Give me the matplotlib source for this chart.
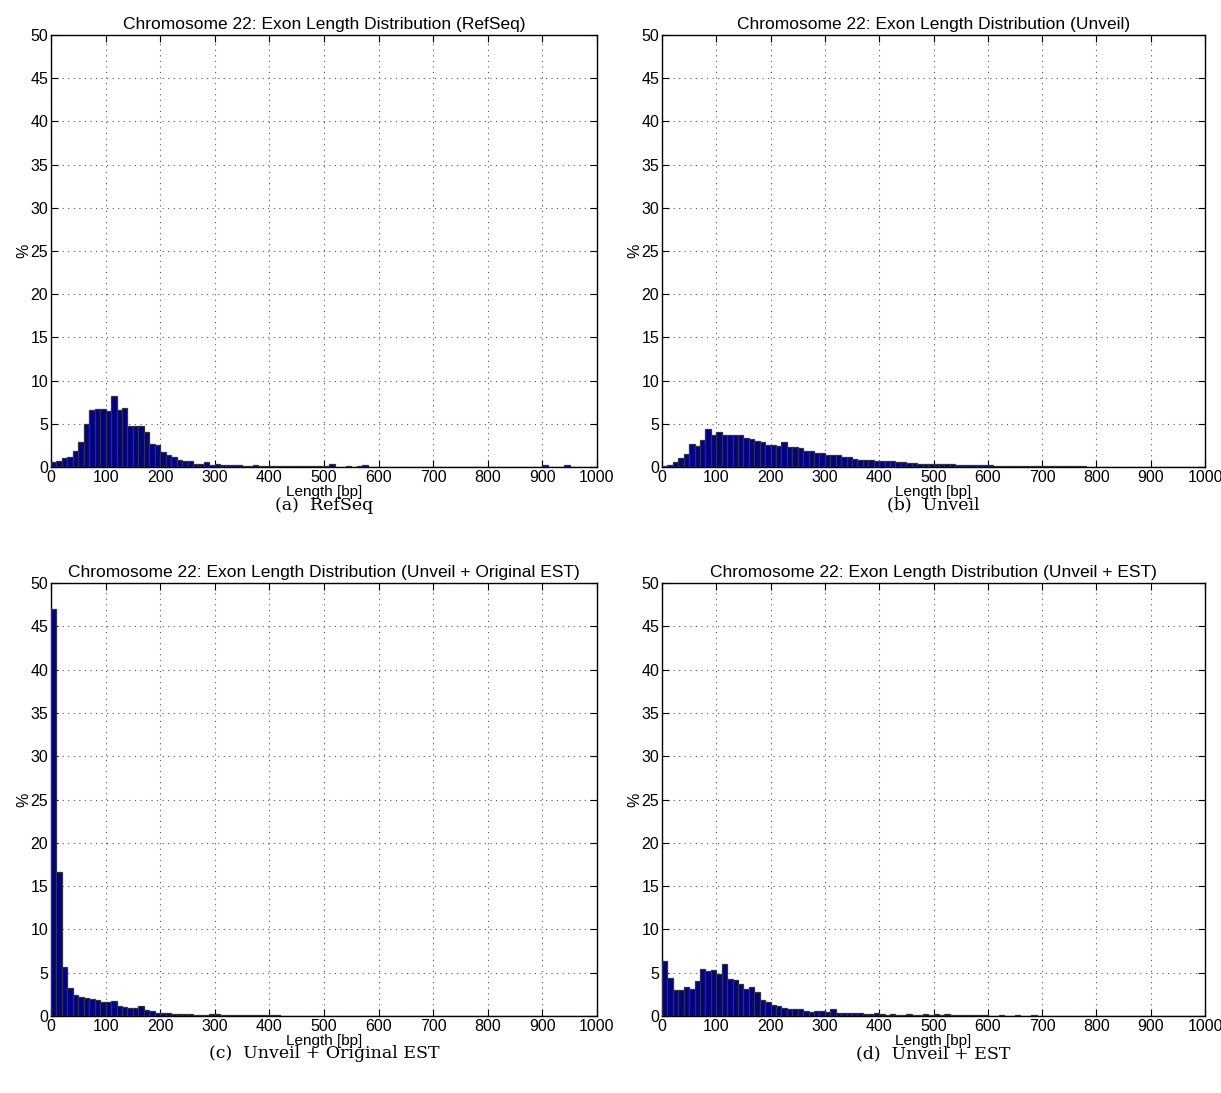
import numpy as np
import matplotlib
matplotlib.use('Agg')
import matplotlib.pyplot as plt

# percent of exons per 10 bp bin, 0..1000 bp
refseq = [0.6, 0.75, 1.0, 1.2, 1.8, 2.9, 5.0, 6.6, 6.7, 6.7,
          6.5, 8.2, 6.6, 6.8, 4.7, 4.7, 4.7, 4.0, 2.65, 2.5,
          1.7, 1.35, 1.15, 0.8, 0.65, 0.7, 0.4, 0.35, 0.6, 0.25,
          0.3, 0.2, 0.2, 0.2, 0.2, 0.1, 0.1, 0.2, 0.1, 0.1,
          0.08, 0.12, 0.08, 0.15, 0.1, 0.1, 0.1, 0.08, 0.08, 0.1,
          0.1, 0.35, 0.05, 0.05, 0.1, 0.05, 0.15, 0.2, 0.05, 0.03,
          0.05, 0.05, 0.05, 0.05, 0.05, 0.05, 0.03, 0.05, 0.03, 0.05,
          0.05, 0.03, 0.05, 0.03, 0.03, 0.03, 0.03, 0.03, 0.05, 0.03,
          0.03, 0.03, 0.03, 0.03, 0.03, 0.03, 0.03, 0.03, 0.03, 0.03,
          0.2, 0.03, 0.03, 0.03, 0.2, 0.03, 0.03, 0.03, 0.03, 0.03]

unveil = [0.1, 0.2, 0.6, 1.0, 1.5, 2.65, 2.4, 3.15, 4.45, 3.7,
          4.0, 3.7, 3.75, 3.65, 3.65, 3.35, 3.25, 3.05, 2.9, 2.6,
          2.6, 2.45, 2.85, 2.3, 2.35, 2.15, 1.9, 1.8, 1.6, 1.65,
          1.4, 1.35, 1.35, 1.15, 1.15, 0.95, 0.8, 0.85, 0.8, 0.7,
          0.7, 0.7, 0.65, 0.55, 0.6, 0.5, 0.5, 0.4, 0.4, 0.35,
          0.35, 0.3, 0.3, 0.3, 0.25, 0.25, 0.25, 0.2, 0.2, 0.2,
          0.2, 0.15, 0.15, 0.15, 0.15, 0.12, 0.12, 0.1, 0.1, 0.1,
          0.08, 0.08, 0.08, 0.07, 0.07, 0.06, 0.06, 0.06, 0.05, 0.05,
          0.05, 0.05, 0.05, 0.04, 0.04, 0.04, 0.04, 0.04, 0.04, 0.04,
          0.03, 0.03, 0.03, 0.03, 0.03, 0.03, 0.03, 0.03, 0.03, 0.03]

unveil_orig_est = [47.0, 16.6, 5.7, 3.2, 2.4, 2.2, 2.1, 2.0, 1.8, 1.65,
                   1.65, 1.7, 1.2, 1.05, 0.9, 0.9, 1.1, 0.65, 0.6, 0.3,
                   0.35, 0.3, 0.25, 0.25, 0.2, 0.2, 0.15, 0.15, 0.15, 0.2,
                   0.25, 0.1, 0.1, 0.1, 0.08, 0.08, 0.08, 0.07, 0.07, 0.06,
                   0.06, 0.06, 0.05, 0.05, 0.05, 0.05, 0.05, 0.04, 0.04, 0.04,
                   0.04, 0.04, 0.04, 0.04, 0.03, 0.03, 0.03, 0.03, 0.03, 0.03,
                   0.03, 0.03, 0.03, 0.03, 0.03, 0.03, 0.03, 0.03, 0.03, 0.03,
                   0.03, 0.03, 0.03, 0.03, 0.03, 0.03, 0.03, 0.03, 0.03, 0.03,
                   0.03, 0.03, 0.03, 0.03, 0.03, 0.03, 0.03, 0.03, 0.03, 0.03,
                   0.03, 0.03, 0.03, 0.03, 0.03, 0.03, 0.03, 0.03, 0.03, 0.03]

unveil_est = [6.3, 4.4, 2.95, 2.95, 3.35, 3.1, 4.05, 5.4, 5.2, 5.3,
              4.85, 6.0, 4.25, 4.1, 3.75, 3.15, 3.4, 2.75, 1.9, 1.6,
              1.3, 1.15, 0.9, 0.8, 0.8, 0.85, 0.55, 0.45, 0.6, 0.55,
              0.45, 0.8, 0.4, 0.3, 0.4, 0.4, 0.35, 0.25, 0.2, 0.3,
              0.2, 0.15, 0.2, 0.15, 0.15, 0.2, 0.15, 0.15, 0.2, 0.15,
              0.2, 0.15, 0.2, 0.15, 0.1, 0.15, 0.1, 0.1, 0.1, 0.1,
              0.05, 0.05, 0.1, 0.05, 0.05, 0.08, 0.05, 0.05, 0.08, 0.05,
              0.05, 0.05, 0.05, 0.05, 0.05, 0.05, 0.05, 0.05, 0.05, 0.05,
              0.05, 0.05, 0.05, 0.05, 0.05, 0.05, 0.05, 0.05, 0.05, 0.05,
              0.05, 0.05, 0.05, 0.05, 0.05, 0.05, 0.05, 0.05, 0.05, 0.05]

bin_centers = np.arange(5, 1000, 10)

names = ['RefSeq', 'Unveil', 'Unveil + Original EST', 'Unveil + EST']
captions = ['(a)  RefSeq', '(b)  Unveil', '(c)  Unveil + Original EST', '(d)  Unveil + EST']
series = [refseq, unveil, unveil_orig_est, unveil_est]

plt.rcParams['font.family'] = ['Liberation Sans', 'DejaVu Sans']

W, H = 1221, 1093
fig = plt.figure(figsize=(W / 100, H / 100), dpi=100)

# axes boxes in pixels: left, top, right, bottom
boxes = [(51, 35, 597, 467), (662, 35, 1205, 467),
         (51, 583, 597, 1016), (662, 583, 1205, 1016)]

for i in range(4):
    l, t, r, b = boxes[i]
    ax = fig.add_axes([l / W, 1 - b / H, (r - l) / W, (b - t) / H])
    ax.bar(bin_centers, series[i], width=10, color='#00008f',
           edgecolor='#333333', linewidth=0.9, zorder=3)
    ax.set_xlim(0, 1000)
    ax.set_ylim(0, 50)
    ax.set_xticks(np.arange(0, 1001, 100))
    ax.set_yticks(np.arange(0, 51, 5))
    ax.grid(True, ls=(0, (1, 4)), color='#555555', lw=0.8, zorder=0)
    ax.tick_params(direction='in', top=True, right=True, labelsize=11.5,
                   length=5, pad=2)
    for s in ax.spines.values():
        s.set_linewidth(1.0)
    ax.set_title('Chromosome 22: Exon Length Distribution (' + names[i] + ')',
                 fontsize=12.5, pad=4)
    ax.set_xlabel('Length [bp]', fontsize=11, labelpad=0)
    ax.set_ylabel('%', fontsize=11.5, labelpad=-1)
    fig.text((l + r) / 2 / W, 1 - (b + 38) / H, captions[i], ha='center',
             va='center', fontsize=12.5, family=['DejaVu Serif'])

fig.savefig('out.png', dpi=100)
